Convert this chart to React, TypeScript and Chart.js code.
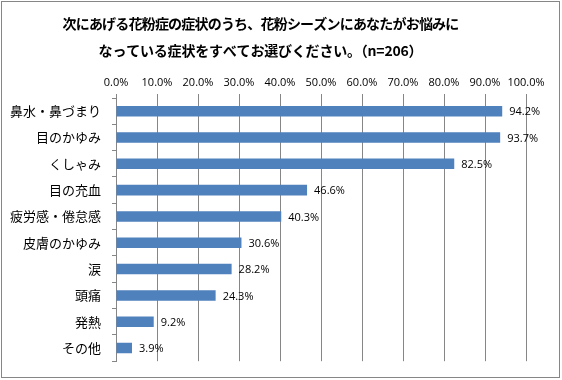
import { useEffect, useRef } from "react";
import { Chart, registerables } from "chart.js";

Chart.register(...registerables);

const categories = [
  "鼻水・鼻づまり",
  "目のかゆみ",
  "くしゃみ",
  "目の充血",
  "疲労感・倦怠感",
  "皮膚のかゆみ",
  "涙",
  "頭痛",
  "発熱",
  "その他",
];
const values = [94.2, 93.7, 82.5, 46.6, 40.3, 30.6, 28.2, 24.3, 9.2, 3.9];
const titleLines = [
  "次にあげる花粉症の症状のうち、花粉シーズンにあなたがお悩みに",
  "なっている症状をすべてお選びください。（n=206）",
];
const axisMin = 0;
const axisMax = 100;
const axisStep = 10;

const GREY = "#868686";
const BAR = "#4F81BD";
const LATIN = "'Open Sans', 'Noto Sans CJK JP', sans-serif";
const CJK = "'Noto Sans CJK JP', sans-serif";

export default function App() {
  const ref = useRef<HTMLCanvasElement | null>(null);

  useEffect(() => {
    document.body.style.margin = "0";
    const canvas = ref.current;
    if (!canvas) return;

    const borderPlugin = {
      id: "outerBorder",
      afterDraw(chart: any) {
        const ctx = chart.ctx;
        ctx.save();
        ctx.strokeStyle = GREY;
        ctx.lineWidth = 1;
        ctx.strokeRect(1.5, 1.5, 558, 376);
        ctx.restore();
      },
    };

    const titlePlugin = {
      id: "jpTitle",
      afterDraw(chart: any) {
        const ctx = chart.ctx;
        ctx.save();
        ctx.font = `bold 14px ${CJK}`;
        ctx.fillStyle = "#000";
        ctx.textAlign = "center";
        ctx.textBaseline = "middle";
        const spacing = ["-0.8px", "-0.2px"];
        const ys = [24, 51];
        titleLines.forEach((line, i) => {
          (ctx as any).letterSpacing = spacing[i];
          ctx.fillText(line, 260.5, ys[i]);
        });
        ctx.restore();
      },
    };

    const labelPlugin = {
      id: "barLabels",
      afterDatasetsDraw(chart: any) {
        const ctx = chart.ctx;
        const meta = chart.getDatasetMeta(0);
        ctx.save();
        ctx.font = `11px ${LATIN}`;
        ctx.fillStyle = "#000";
        ctx.textAlign = "left";
        ctx.textBaseline = "middle";
        meta.data.forEach((bar: any, i: number) => {
          ctx.fillText(values[i].toFixed(1) + "%", bar.x + 7, bar.y + 1);
        });
        ctx.restore();
      },
    };

    const chart = new Chart(canvas, {
      type: "bar",
      data: {
        labels: categories,
        datasets: [
          {
            data: values,
            backgroundColor: BAR,
            borderWidth: 0,
            categoryPercentage: 1,
            barPercentage: 0.4,
          },
        ],
      },
      options: {
        indexAxis: "y",
        responsive: false,
        animation: false,
        layout: { padding: { left: 0, right: 36, top: 70, bottom: 15 } },
        plugins: {
          legend: { display: false },
          tooltip: { enabled: false },
          title: { display: false },
        },
        scales: {
          x: {
            position: "top",
            min: axisMin,
            max: axisMax,
            afterFit(scale: any) {
              scale.height = 28;
            },
            ticks: {
              stepSize: axisStep,
              color: "#000",
              font: { family: LATIN, size: 11 },
              padding: 5,
              maxRotation: 0,
              minRotation: 0,
              autoSkip: false,
              callback: (v: any) => Number(v).toFixed(1) + "%",
            },
            grid: {
              color: GREY,
              tickLength: 4,
              drawTicks: true,
            },
            border: { display: false },
          },
          y: {
            afterFit(scale: any) {
              scale.width = 116;
            },
            ticks: {
              color: "#000",
              font: { family: CJK, size: 13 },
              padding: 11,
            },
            grid: {
              color: GREY,
              drawOnChartArea: false,
              tickLength: 4,
              offset: true,
            },
            border: { display: true, color: GREY },
          },
        },
      },
      plugins: [borderPlugin, titlePlugin, labelPlugin],
    } as any);

    return () => chart.destroy();
  }, []);

  return <canvas ref={ref} width={562} height={380} style={{ display: "block" }} />;
}
